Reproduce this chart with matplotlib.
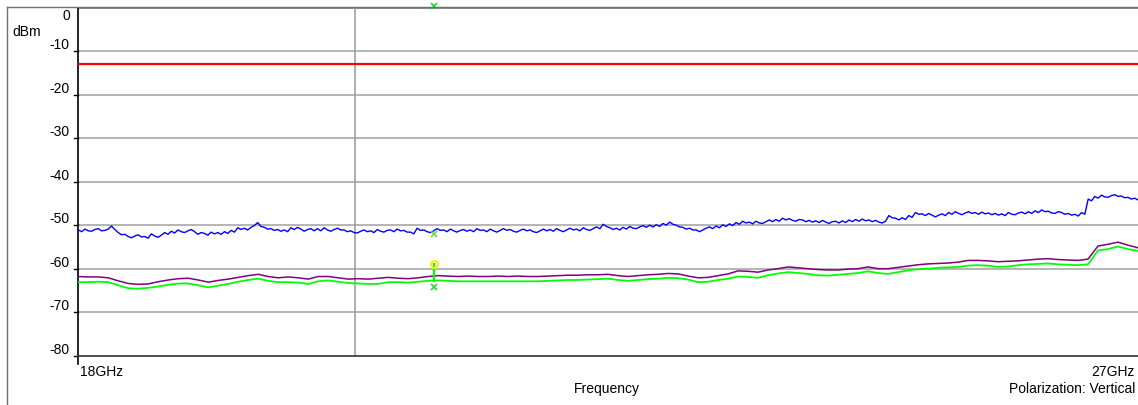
import numpy as np
import matplotlib
matplotlib.use("Agg")
import matplotlib.pyplot as plt
from matplotlib.transforms import blended_transform_factory

plt.rcParams['font.family'] = ['Liberation Sans', 'DejaVu Sans']

# ---------------- data ----------------
f_start, f_stop = 18.0, 27.0
y_ticks = [0, -10, -20, -30, -40, -50, -60, -70, -80]
limit_dbm = -13.0
cursor_ghz = 20.35

# blue trace (peak), 320 points evenly spaced over 18..27 GHz
blue_dbm = [
    -51.1, -51.5, -50.9, -51.3, -51.4, -51.0, -50.8, -51.3, -51.2, -50.9,
    -50.2, -51.0, -51.7, -52.2, -52.1, -52.6, -52.9, -52.5, -52.2, -52.7,
    -52.6, -53.0, -52.0, -52.5, -52.8, -52.3, -51.7, -52.1, -51.4, -51.8,
    -51.1, -51.5, -51.7, -51.3, -51.0, -51.5, -52.1, -51.7, -51.9, -52.3,
    -51.6, -52.0, -51.7, -52.1, -51.5, -51.9, -51.2, -51.6, -50.6, -51.0,
    -50.7, -51.1, -50.5, -50.1, -49.4, -50.3, -50.5, -50.9, -50.8, -51.2,
    -51.0, -51.4, -51.1, -51.5, -50.6, -51.0, -50.5, -50.9, -51.4, -51.0,
    -50.8, -51.3, -50.8, -51.3, -50.6, -51.1, -51.4, -51.0, -50.7, -51.1,
    -51.1, -51.5, -51.3, -51.7, -51.8, -51.4, -51.1, -51.5, -51.3, -51.7,
    -51.0, -51.4, -51.6, -51.2, -51.1, -51.5, -50.9, -51.3, -51.2, -51.6,
    -51.6, -52.0, -50.7, -51.2, -51.1, -51.5, -51.7, -51.3, -50.8, -51.2,
    -51.1, -51.5, -50.9, -51.3, -51.6, -51.2, -51.0, -51.4, -51.1, -51.5,
    -50.8, -51.2, -51.1, -51.5, -50.9, -51.3, -51.6, -51.2, -50.8, -51.2,
    -51.0, -51.4, -51.6, -51.2, -50.9, -51.3, -51.1, -51.5, -51.7, -51.3,
    -50.9, -51.3, -51.0, -51.4, -50.8, -51.2, -51.5, -51.1, -50.7, -51.1,
    -50.9, -51.3, -50.6, -51.0, -51.2, -50.8, -50.4, -50.8, -49.8, -50.3,
    -50.6, -51.0, -50.7, -51.1, -50.5, -50.9, -50.3, -50.7, -50.8, -50.4,
    -50.1, -50.5, -50.0, -50.4, -49.9, -50.3, -49.6, -50.0, -49.3, -49.8,
    -50.0, -50.4, -50.5, -50.9, -50.7, -51.1, -51.1, -51.5, -51.1, -50.7,
    -50.4, -50.8, -50.2, -50.6, -49.9, -50.3, -49.7, -50.1, -49.4, -49.8,
    -49.1, -49.5, -49.3, -49.7, -49.1, -49.5, -49.6, -49.2, -48.8, -49.2,
    -48.7, -49.1, -48.4, -48.8, -48.5, -48.9, -49.1, -48.7, -48.8, -49.2,
    -48.9, -49.3, -49.0, -49.4, -48.9, -49.3, -49.6, -49.2, -49.1, -49.5,
    -49.0, -49.4, -48.8, -49.2, -48.7, -49.1, -48.6, -49.0, -48.8, -49.2,
    -48.9, -49.3, -49.5, -49.1, -47.8, -48.3, -48.4, -48.8, -48.3, -48.7,
    -47.8, -48.2, -47.1, -47.5, -47.4, -47.8, -47.3, -47.7, -48.1, -47.7,
    -47.4, -47.8, -47.1, -47.5, -46.9, -47.3, -47.6, -47.2, -46.9, -47.3,
    -47.1, -47.5, -47.0, -47.4, -47.2, -47.6, -47.3, -47.7, -47.4, -47.8,
    -47.1, -47.5, -47.6, -47.2, -47.0, -47.4, -46.9, -47.3, -46.7, -47.1,
    -46.5, -46.9, -46.8, -47.2, -47.3, -46.9, -47.1, -47.5, -47.3, -47.7,
    -47.5, -47.9, -47.1, -47.5, -44.0, -44.4, -43.4, -43.8, -43.1, -43.5,
    -43.6, -43.2, -43.0, -43.4, -43.3, -43.7, -43.6, -44.0, -43.8, -44.2,
]

# purple trace, 107 points evenly spaced
purple_dbm = [
    -61.8, -61.9, -61.9, -62.1, -62.8, -63.4, -63.6, -63.5, -63.0, -62.6,
    -62.3, -62.2, -62.6, -63.1, -62.7, -62.4, -62.0, -61.6, -61.3, -61.8,
    -62.1, -61.9, -62.1, -62.4, -61.8, -61.8, -62.1, -62.4, -62.3, -62.4,
    -62.2, -62.0, -62.2, -62.3, -62.1, -61.8, -61.6, -61.7, -61.8, -61.7,
    -61.8, -61.8, -61.7, -61.8, -61.7, -61.8, -61.8, -61.7, -61.6, -61.5,
    -61.5, -61.4, -61.4, -61.3, -61.6, -61.8, -61.6, -61.4, -61.3, -61.1,
    -61.2, -61.7, -62.1, -62.0, -61.6, -61.2, -60.5, -60.6, -60.8, -60.3,
    -60.0, -59.6, -59.8, -60.0, -60.2, -60.3, -60.3, -60.1, -60.0, -59.6,
    -60.0, -60.0, -59.7, -59.4, -59.1, -58.9, -58.8, -58.7, -58.5, -58.1,
    -58.1, -58.2, -58.4, -58.3, -58.2, -58.0, -57.8, -57.7, -57.9, -58.0,
    -58.1, -57.8, -54.8, -54.4, -53.9, -54.6, -55.2,
]

# green trace, 107 points evenly spaced
green_dbm = [
    -63.1, -63.1, -63.0, -63.1, -63.8, -64.5, -64.6, -64.4, -64.1, -63.7,
    -63.4, -63.4, -63.8, -64.3, -63.9, -63.5, -63.0, -62.6, -62.3, -62.8,
    -63.1, -63.1, -63.2, -63.5, -62.9, -62.7, -63.0, -63.3, -63.4, -63.5,
    -63.5, -63.1, -63.1, -63.2, -63.0, -62.8, -62.7, -62.8, -62.9, -62.9,
    -62.9, -62.9, -62.9, -62.9, -62.9, -62.9, -62.9, -62.8, -62.7, -62.6,
    -62.6, -62.5, -62.4, -62.3, -62.6, -62.8, -62.6, -62.4, -62.3, -62.1,
    -62.2, -62.5, -63.1, -63.0, -62.6, -62.3, -61.8, -61.9, -62.1, -61.5,
    -61.1, -60.8, -61.0, -61.2, -61.5, -61.6, -61.4, -61.2, -61.0, -60.6,
    -61.0, -61.2, -60.8, -60.4, -60.1, -60.0, -59.8, -59.7, -59.6, -59.3,
    -59.2, -59.3, -59.6, -59.5, -59.2, -59.0, -58.9, -58.8, -59.0, -59.1,
    -59.2, -59.0, -55.8, -55.5, -54.9, -55.5, -55.9,
]

# marker at ~21.02 GHz
marker_ghz = 21.02
marker_top_dbm = 0.3
marker_blue_dbm = -52.1
marker_yellow_dbm = -59.0
marker_green_dbm = -64.2
spike_base_dbm = -62.8

# ---------------- figure ----------------
W, H = 1138, 406
fig = plt.figure(figsize=(W / 100, H / 100), dpi=100)
left_px, right_px, top_px, bottom_px = 78.3, 1138, 8.6, 356.7
ax = fig.add_axes([left_px / W, 1 - bottom_px / H,
                   (right_px - left_px) / W, (bottom_px - top_px) / H])
ax.set_xlim(f_start, f_stop)
ax.set_ylim(-80, 0)
ax_w_px = right_px - left_px

# outer frame lines (figure coords)
fig.add_artist(plt.Line2D([7 / W, 7 / W], [0, 1 - 8 / H], color='#707070', lw=1.0))
fig.add_artist(plt.Line2D([7 / W, 1], [1 - 8 / H, 1 - 8 / H], color='#707070', lw=1.0))

# gridlines
for t in y_ticks:
    if t == 0:
        ax.axhline(t, color='#808080', lw=1.3, zorder=1, clip_on=False)
    elif t != -80:
        ax.axhline(t, color='#b4b4b4', lw=1.4, zorder=1)
ax.axvline(cursor_ghz, color='#a0a0a0', lw=1.2, zorder=1)

for s in ['top', 'right']:
    ax.spines[s].set_visible(False)
ax.spines['left'].set_color('black')
ax.spines['left'].set_linewidth(1.2)
ax.spines['bottom'].set_color('#404040')
ax.spines['bottom'].set_linewidth(1.3)
ax.set_xticks([])
ax.set_yticks([])

trans_y = blended_transform_factory(ax.transAxes, ax.transData)
for t in y_ticks[1:]:
    ax.plot([-4 / ax_w_px, 0], [t, t], transform=trans_y,
            color='black', lw=1.0, clip_on=False)
ax.plot([0, 0], [0, -8 / (bottom_px - top_px)], transform=ax.transAxes,
        color='black', lw=1.2, clip_on=False)

for t in y_ticks:
    if t == 0:
        ax.text(-8 / ax_w_px, t, str(t), transform=trans_y,
                ha='right', va='top', fontsize=10, color='black')
    else:
        ax.text(-8.5 / ax_w_px, t, str(t), transform=trans_y,
                ha='right', va='bottom', fontsize=10, color='black')
fig.text(12 / W, 1 - 32 / H, 'dBm', ha='left', va='center', fontsize=10)

fig.text(80 / W, 1 - 372 / H, f'{int(f_start)}GHz', ha='left', va='center', fontsize=10)
fig.text(1135 / W, 1 - 372 / H, f'{int(f_stop)}GHz', ha='right', va='center', fontsize=10)
fig.text(607 / W, 1 - 389 / H, 'Frequency', ha='center', va='center', fontsize=10)
fig.text(1135 / W, 1 - 389 / H, 'Polarization: Vertical', ha='right', va='center', fontsize=10)

fb = np.linspace(f_start, f_stop, len(blue_dbm))
fp = np.linspace(f_start, f_stop, len(purple_dbm))
fg = np.linspace(f_start, f_stop, len(green_dbm))
ax.axhline(limit_dbm, color='#ff0000', lw=1.6, zorder=3)
ax.plot(fb, blue_dbm, color='#0000ff', lw=1.0, zorder=4)
ax.plot(fp, purple_dbm, color='#800080', lw=1.1, zorder=4)
ax.plot(fg, green_dbm, color='#00ff00', lw=1.3, zorder=5)

ax.plot([marker_ghz, marker_ghz], [spike_base_dbm, marker_yellow_dbm],
        color='#00ff00', lw=1.6, zorder=6)
ax.plot([marker_ghz], [marker_top_dbm], marker='x', color='#22dd22',
        ms=5, mew=1.2, zorder=7, clip_on=False)
ax.plot([marker_ghz], [marker_blue_dbm], marker='x', color='#66dd44',
        ms=5, mew=1.2, zorder=7)
ax.plot([marker_ghz], [marker_green_dbm], marker='x', color='#22dd22',
        ms=5, mew=1.2, zorder=7)
ax.plot([marker_ghz], [marker_yellow_dbm], marker='o', mfc='none', mec='#ffee00',
        ms=5, mew=1.5, zorder=7)

fig.savefig('out.png', dpi=100)
